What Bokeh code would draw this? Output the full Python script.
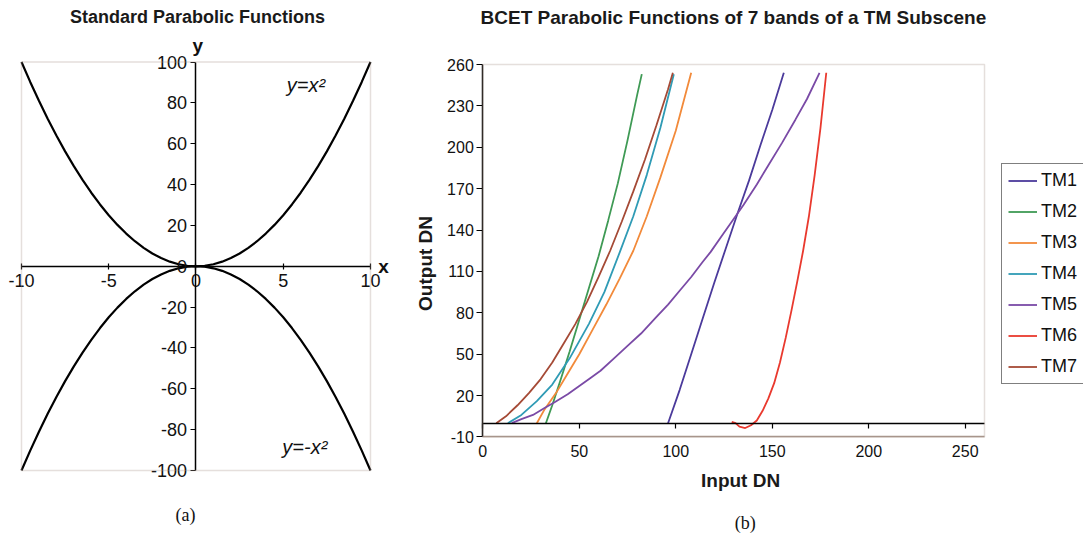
import math
from bokeh.plotting import figure
from bokeh.models import Range1d, LinearAxis, FixedTicker, Label, Legend, LegendItem, BoxAnnotation
from bokeh.layouts import row
from bokeh.embed import file_html
from bokeh.resources import INLINE

# ---------------- (a) standard parabolic functions ----------------
std_x = [-10, -9.5, -9, -8.5, -8, -7.5, -7, -6.5, -6, -5.5, -5, -4.5, -4, -3.5, -3, -2.5, -2, -1.5, -1, -0.5,
         0, 0.5, 1, 1.5, 2, 2.5, 3, 3.5, 4, 4.5, 5, 5.5, 6, 6.5, 7, 7.5, 8, 8.5, 9, 9.5, 10]
std_y_pos = [100, 90.25, 81, 72.25, 64, 56.25, 49, 42.25, 36, 30.25, 25, 20.25, 16, 12.25, 9, 6.25, 4, 2.25, 1, 0.25,
             0, 0.25, 1, 2.25, 4, 6.25, 9, 12.25, 16, 20.25, 25, 30.25, 36, 42.25, 49, 56.25, 64, 72.25, 81, 90.25, 100]
std_y_neg = [-100, -90.25, -81, -72.25, -64, -56.25, -49, -42.25, -36, -30.25, -25, -20.25, -16, -12.25, -9, -6.25, -4, -2.25, -1, -0.25,
             0, -0.25, -1, -2.25, -4, -6.25, -9, -12.25, -16, -20.25, -25, -30.25, -36, -42.25, -49, -56.25, -64, -72.25, -81, -90.25, -100]
std_xticks = [-10, -5, 0, 5, 10]
std_yticks = [-100, -80, -60, -40, -20, 0, 20, 40, 60, 80, 100]

# ---------------- (b) BCET parabolic functions ----------------
bands = ["TM1", "TM2", "TM3", "TM4", "TM5", "TM6", "TM7"]
tm1_x = [96, 102, 108, 114, 120, 126, 132, 138, 144, 150, 156]
tm1_y = [0, 24, 50, 76, 102, 127, 152, 176, 202, 227, 254]
tm2_x = [32.7, 36, 40, 45, 50, 55, 60, 65, 70, 75, 80, 82.4]
tm2_y = [0, 13, 30, 52, 75, 98, 121, 147, 174, 205, 238, 253]
tm3_x = [28, 32, 38, 44, 50, 57, 64, 71, 78, 85, 92, 100, 108]
tm3_y = [0, 10, 22, 36, 50, 68, 86, 105, 125, 150, 178, 212, 254]
tm4_x = [13, 20, 28, 36, 45, 55, 63, 71, 78, 85, 92, 99]
tm4_y = [0, 6, 16, 28, 47, 72, 95, 124, 150, 180, 214, 253]
tm5_x = [15, 20, 26, 32, 37, 44, 50, 56, 61, 68, 75, 82, 90, 96, 102, 108, 114, 118, 124, 130, 135, 142, 148, 155, 162, 168, 174.5]
tm5_y = [0, 3, 6, 11, 15, 21, 27, 33, 38, 47, 56, 65, 77, 86, 96, 106, 117, 124, 136, 148, 158, 173, 187, 203, 220, 235, 254]
tm6_x = [129, 131, 133, 136, 139, 142, 145, 148, 151, 154, 157, 160, 163, 166, 169, 172, 175, 178]
tm6_y = [1, 0, -2.5, -3.5, -1.5, 2, 9, 18, 29, 44, 62, 82, 103, 125, 150, 180, 214, 254]
tm7_x = [7, 12, 18, 24, 30, 36, 42, 48, 54, 60, 66, 72, 78, 84, 90, 96, 98.5]
tm7_y = [0, 5, 13, 22, 32, 44, 58, 72, 88, 106, 125, 146, 168, 191, 216, 242, 254]
band_colors = ["#4b3a9b", "#3f9a55", "#f28a3a", "#2f9bb5", "#7a4aa6", "#e9392e", "#a54a36"]
bcet_xticks = [0, 50, 100, 150, 200, 250]
bcet_yticks = [-10, 20, 50, 80, 110, 140, 170, 200, 230, 260]

FONT = "Liberation Sans"
FRAME = "#a8968c"


def hyphen_labels(ticks):
    return {t: str(t) for t in ticks}


def style_axis(ax, size):
    ax.axis_line_color = "black"
    ax.axis_line_width = 1.5
    ax.major_tick_line_color = "black"
    ax.major_tick_line_width = 1.2
    ax.minor_tick_line_color = None
    ax.major_label_text_font = FONT
    ax.major_label_text_font_size = size
    ax.major_label_text_color = "#111111"


def base_fig(w, h, xr, yr):
    p = figure(width=w, height=h, x_range=Range1d(*xr), y_range=Range1d(*yr),
               output_backend="svg", toolbar_location=None,
               x_axis_location=None, y_axis_location=None,
               min_border_left=0, min_border_right=0, min_border_top=0, min_border_bottom=0)
    p.xgrid.grid_line_color = None
    p.ygrid.grid_line_color = None
    p.outline_line_color = None
    p.background_fill_color = "white"
    p.border_fill_color = "white"
    return p


# ---------------- figure (a) ----------------
p1 = base_fig(408, 539, (-11.203, 12.178), (-133.78, 130.11))
p1.add_layout(BoxAnnotation(left=-10, right=10, bottom=-100, top=100, fill_alpha=0,
                            line_color=FRAME, line_width=1.5))

xax1 = LinearAxis(fixed_location=0, ticker=FixedTicker(ticks=std_xticks), bounds=(-10, 10),
                  major_label_overrides=hyphen_labels(std_xticks))
style_axis(xax1, "18px")
xax1.major_tick_in = 3
xax1.major_tick_out = 3
xax1.major_label_standoff = 5
p1.add_layout(xax1, "below")

yax1 = LinearAxis(fixed_location=0, ticker=FixedTicker(ticks=std_yticks), bounds=(-100, 100),
                  major_label_overrides=hyphen_labels(std_yticks))
style_axis(yax1, "18px")
yax1.major_tick_in = 0
yax1.major_tick_out = 5
yax1.major_label_standoff = 4
p1.add_layout(yax1, "left")

p1.line(std_x, std_y_pos, line_color="black", line_width=2.2)
p1.line(std_x, std_y_neg, line_color="black", line_width=2.2)

p1.add_layout(Label(x=0.09, y=121.8, text="Standard Parabolic Functions", text_align="center",
                    text_baseline="middle", text_font=FONT, text_font_style="bold",
                    text_font_size="18px", text_color="#1a1a1a"))
p1.add_layout(Label(x=0.1, y=108.1, text="y", text_align="center", text_baseline="middle",
                    text_font=FONT, text_font_style="bold", text_font_size="19px", text_color="#111111"))
p1.add_layout(Label(x=10.75, y=0, text="x", text_align="center", text_baseline="middle",
                    text_font=FONT, text_font_style="bold", text_font_size="19px", text_color="#111111"))
p1.add_layout(Label(x=5.2, y=88.5, text="y=x²", text_align="left", text_baseline="middle",
                    text_font=FONT, text_font_style="italic", text_font_size="20px", text_color="#111111"))
p1.add_layout(Label(x=4.95, y=-88.6, text="y=-x²", text_align="left", text_baseline="middle",
                    text_font=FONT, text_font_style="italic", text_font_size="20px", text_color="#111111"))
p1.add_layout(Label(x=-0.6, y=-122.0, text="(a)", text_align="center", text_baseline="middle",
                    text_font="Liberation Serif", text_font_size="18px", text_color="#111111"))

# ---------------- figure (b) ----------------
p2 = base_fig(675, 539, (-38.5, 311.3), (-84.3, 306.39))
p2.add_layout(BoxAnnotation(left=0, right=260, bottom=-10, top=260, fill_alpha=0,
                            line_color=FRAME, line_width=1.5))

yax2 = LinearAxis(fixed_location=0, ticker=FixedTicker(ticks=bcet_yticks), bounds=(-10, 260),
                  major_label_overrides=hyphen_labels(bcet_yticks))
style_axis(yax2, "16px")
yax2.major_tick_in = 0
yax2.major_tick_out = 6
yax2.major_label_standoff = 3
p2.add_layout(yax2, "left")

xax2 = LinearAxis(fixed_location=-10, ticker=FixedTicker(ticks=bcet_xticks), bounds=(0, 260))
style_axis(xax2, "16px")
xax2.axis_line_color = FRAME
xax2.major_tick_line_color = None
xax2.major_tick_in = 0
xax2.major_tick_out = 0
xax2.major_label_standoff = 8
p2.add_layout(xax2, "below")

zero_ax = LinearAxis(fixed_location=0, ticker=FixedTicker(ticks=bcet_xticks), bounds=(0, 260),
                     major_label_overrides={t: "" for t in bcet_xticks})
style_axis(zero_ax, "1px")
zero_ax.major_tick_in = 0
zero_ax.major_tick_out = 5
p2.add_layout(zero_ax, "below")

xs = [tm1_x, tm2_x, tm3_x, tm4_x, tm5_x, tm6_x, tm7_x]
ys = [tm1_y, tm2_y, tm3_y, tm4_y, tm5_y, tm6_y, tm7_y]
items = []
for name, bx, by, col in zip(bands, xs, ys, band_colors):
    r = p2.line(bx, by, line_color=col, line_width=1.8)
    items.append(LegendItem(label=name, renderers=[r]))

legend = Legend(items=items, location=(593, 155), margin=0, padding=6, spacing=10,
                glyph_width=29, glyph_height=21, label_height=21, label_width=52, label_standoff=4,
                label_text_font=FONT, label_text_font_size="18px", label_text_color="#111111",
                border_line_color="black", border_line_width=1.2,
                background_fill_color="white", background_fill_alpha=1)
p2.add_layout(legend)

p2.add_layout(Label(x=129.9, y=294.1, text="BCET Parabolic Functions of 7 bands of a TM Subscene",
                    text_align="center", text_baseline="middle", text_font=FONT,
                    text_font_style="bold", text_font_size="19px", text_color="#1a1a1a"))
p2.add_layout(Label(x=-29.7, y=115.8, text="Output DN", angle=math.pi / 2,
                    text_align="center", text_baseline="middle", text_font=FONT,
                    text_font_style="bold", text_font_size="19px", text_color="#1a1a1a"))
p2.add_layout(Label(x=133.6, y=-41.5, text="Input DN",
                    text_align="center", text_baseline="middle", text_font=FONT,
                    text_font_style="bold", text_font_size="19px", text_color="#1a1a1a"))
p2.add_layout(Label(x=136, y=-72.0, text="(b)", text_align="center", text_baseline="middle",
                    text_font="Liberation Serif", text_font_size="18px", text_color="#111111"))

layout = row(p1, p2, spacing=0)
open("out.html", "w").write(file_html(layout, INLINE))
